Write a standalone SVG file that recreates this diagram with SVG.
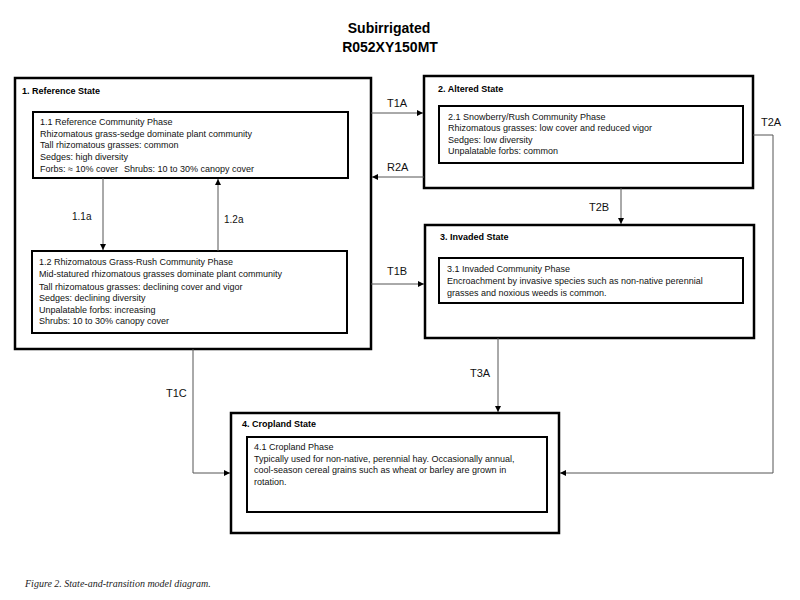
<svg xmlns="http://www.w3.org/2000/svg" width="800" height="600" viewBox="0 0 800 600">
<defs>
<marker id="ah" viewBox="0 0 10 10" refX="10" refY="5" markerWidth="6" markerHeight="6" markerUnits="userSpaceOnUse" orient="auto">
<path d="M0,0 L10,5 L0,10 z" fill="#000"/>
</marker>
<style>
.outer{fill:#fff;stroke:#000;stroke-width:2.5}
.inner{fill:#fff;stroke:#000;stroke-width:2}
.title{font-family:"Liberation Sans",Arial,sans-serif;font-weight:bold;font-size:14px;fill:#000;text-anchor:middle}
.st{font-family:"Liberation Sans",Arial,sans-serif;font-weight:bold;font-size:9px;fill:#000}
.tx{font-family:"Liberation Sans",Arial,sans-serif;font-size:9px;fill:#111}
.lb{font-family:"Liberation Sans",Arial,sans-serif;font-size:11px;fill:#111}
.lb2{font-family:"Liberation Sans",Arial,sans-serif;font-size:10px;fill:#111}
.cn{fill:none;stroke:#555;stroke-width:1;marker-end:url(#ah)}
.cap{font-family:"Liberation Serif","Times New Roman",serif;font-style:italic;font-size:10px;fill:#222}
</style>
</defs>
<rect width="800" height="600" fill="#fff"/>
<text class="title" x="389" y="33">Subirrigated</text>
<text class="title" x="390" y="52">R052XY150MT</text>

<g id="state1">
<rect class="outer" x="15" y="78" width="356" height="271"/>
<text class="st" x="22" y="94">1. Reference State</text>
<g id="phase1_1">
<rect class="inner" x="33" y="112" width="315" height="66"/>
<text class="tx" x="40" y="125">1.1 Reference Community Phase</text>
<text class="tx" x="40" y="136.5">Rhizomatous grass-sedge dominate plant community</text>
<text class="tx" x="40" y="148">Tall rhizomatous grasses: common</text>
<text class="tx" x="40" y="160">Sedges: high diversity</text>
<text class="tx" x="40" y="172">Forbs: ≈ 10% cover<tspan x="124">Shrubs: 10 to 30% canopy cover</tspan></text>
</g>
<g id="phase1_2">
<rect class="inner" x="32" y="251" width="315" height="82"/>
<text class="tx" x="39" y="265">1.2 Rhizomatous Grass-Rush Community Phase</text>
<text class="tx" x="39" y="277">Mid-statured rhizomatous grasses dominate plant community</text>
<text class="tx" x="39" y="289.5">Tall rhizomatous grasses: declining cover and vigor</text>
<text class="tx" x="39" y="301">Sedges: declining diversity</text>
<text class="tx" x="39" y="312.5">Unpalatable forbs: increasing</text>
<text class="tx" x="39" y="324">Shrubs: 10 to 30% canopy cover</text>
</g>
</g>

<g id="state2">
<rect class="outer" x="424" y="76" width="329" height="112"/>
<text class="st" x="438" y="92">2. Altered State</text>
<g id="phase2_1">
<rect class="inner" x="439" y="106" width="304" height="57"/>
<text class="tx" x="448" y="120">2.1 Snowberry/Rush Community Phase</text>
<text class="tx" x="448" y="131">Rhizomatous grasses: low cover and reduced vigor</text>
<text class="tx" x="448" y="143">Sedges: low diversity</text>
<text class="tx" x="448" y="154">Unpalatable forbs: common</text>
</g>
</g>

<g id="state3">
<rect class="outer" x="425" y="225" width="329" height="113"/>
<text class="st" x="440" y="240">3. Invaded  State</text>
<g id="phase3_1">
<rect class="inner" x="439" y="258" width="304" height="45"/>
<text class="tx" x="447" y="272">3.1 Invaded Community Phase</text>
<text class="tx" x="447" y="284">Encroachment by invasive species such as non-native perennial</text>
<text class="tx" x="447" y="296">grasses and noxious weeds is common.</text>
</g>
</g>

<g id="state4">
<rect class="outer" x="231" y="413" width="328" height="120"/>
<text class="st" x="242" y="427">4. Cropland State</text>
<g id="phase4_1">
<rect class="inner" x="247" y="437" width="300" height="75"/>
<text class="tx" x="254" y="450">4.1 Cropland Phase</text>
<text class="tx" x="254" y="461.5">Typically used for non-native, perennial hay. Occasionally annual,</text>
<text class="tx" x="254" y="473">cool-season cereal grains such as wheat or barley are grown in</text>
<text class="tx" x="254" y="484.5">rotation.</text>
</g>
</g>

<g id="connectors">
<path class="cn" d="M103,178 V250"/>
<path class="cn" d="M218,251 V179"/>
<path class="cn" d="M371,113 H423"/>
<path class="cn" d="M424,177 H372"/>
<path class="cn" d="M371,284 H424"/>
<path class="cn" d="M621,188 V224"/>
<path class="cn" d="M753,135 H773 V473 H560"/>
<path class="cn" d="M498,338 V412"/>
<path class="cn" d="M193,349 V473 H230"/>
<text class="lb2" x="72" y="220">1.1a</text>
<text class="lb2" x="224" y="223">1.2a</text>
<text class="lb" x="387" y="107">T1A</text>
<text class="lb" x="387" y="171">R2A</text>
<text class="lb" x="387" y="275">T1B</text>
<text class="lb" x="589" y="211">T2B</text>
<text class="lb" x="761" y="126">T2A</text>
<text class="lb" x="470" y="377">T3A</text>
<text class="lb" x="166" y="397">T1C</text>
</g>

<text class="cap" x="25" y="587">Figure 2. State-and-transition model diagram.</text>
</svg>
